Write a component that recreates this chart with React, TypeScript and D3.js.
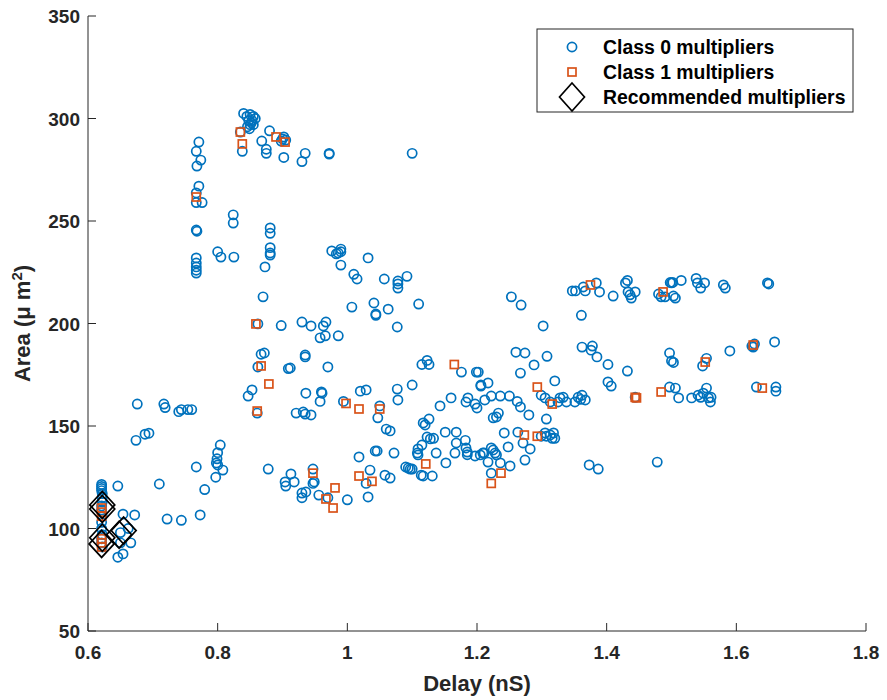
import React from 'react';
import * as d3 from 'd3';

const class0: [number, number][] = [
  [0.621,121.5],[0.621,120.5],[0.621,119.5],[0.621,118.5],[0.622,117],[0.622,115],[0.622,113],[0.621,111],[0.621,109],[0.622,106],[0.621,103],[0.621,100],[0.622,97],[0.621,95],[0.621,93],[0.622,91],
  [0.674,143],[0.688,146],[0.694,146.5],[0.71,121.7],[0.646,120.7],[0.654,107],[0.672,106.6],[0.722,104.6],[0.744,104],[0.773,106.6],[0.662,100],[0.65,98],[0.666,93],[0.65,93],[0.654,87.6],[0.646,86],
  [0.804,140.7],[0.80,137],[0.799,134],[0.798,132],[0.80,131],[0.767,130],[0.808,128.5],[0.797,125],[0.78,119],[0.878,129],[0.904,122.7],[0.905,120.7],
  [0.676,160.7],[0.717,160.7],[0.719,159],[0.74,157],[0.744,158],[0.754,158],[0.76,158],
  [0.767,227.6],[0.767,226],[0.767,224.6],[0.873,227.6],[0.87,213],[0.862,199.8],[0.898,199],[0.867,185],[0.872,185.6],[0.862,178.8],[0.909,178],[0.853,167.6],[0.847,164.6],[0.861,156.3],
  [0.84,302.5],[0.845,301],[0.85,302],[0.855,301],[0.848,299],[0.852,298],[0.846,296],[0.85,297],[0.853,299],[0.858,300],[0.849,295],[0.855,297],
  [0.835,293.4],[0.838,284],[0.88,294],[0.868,289],[0.875,285],[0.875,283],[0.9,290],[0.902,291],[0.905,289.5],[0.898,289],[0.902,281],
  [0.771,288.5],[0.767,284],[0.774,279.7],[0.768,276.8],[0.771,267],[0.767,263.7],[0.767,259],[0.776,259],[0.824,253],[0.824,249],[0.767,245.6],[0.768,245],
  [0.881,246.6],[0.881,244],[0.881,237],[0.881,234.4],[0.881,233.4],[0.80,235],[0.805,232.4],[0.825,232.4],[0.767,232],[0.767,229.5],
  [0.935,283],[0.93,279],[0.972,283],[0.972,282.6],[1.1,283],
  [0.976,235.4],[0.983,234],[0.99,236.3],[0.99,235],[0.986,234.4],[0.99,228.5],[1.032,232],
  [1.01,224],[1.015,221.7],[1.057,221.7],[1.078,220.7],[1.078,219.3],[1.078,217.3],[1.092,223],[1.007,208],[1.041,210],[1.044,204],[1.044,204.6],[1.063,207],[1.11,209.5],[1.077,198.3],
  [0.93,200.7],[0.944,198.8],[0.963,198.8],[0.967,200.7],[0.958,193],[0.966,194],[0.986,194],[0.935,184.6],[0.935,183.7],[0.912,178.3],[0.97,178.8],[1.115,180],[1.123,182],[1.126,180],[1.176,176.3],[1.199,176.3],[1.202,176.3],[1.206,169.5],
  [0.936,166],[0.96,166.6],[0.961,166],[0.958,162],[0.994,162],[1.02,167],[1.029,167.6],[1.05,159.8],[1.047,154],[1.077,168],[1.078,162.7],[1.1,170],
  [0.921,156.3],[0.932,156.8],[0.935,155.8],[0.944,155.4],[1.06,148.5],[1.066,147.6],[1.117,151.5],[1.12,150.5],[1.126,153.4],[1.143,159.8],[1.16,163.7],[1.151,147],[1.168,147],[1.183,161.7],[1.186,163.7],[1.197,160.7],[1.2,158.8],
  [1.123,144.6],[1.128,143.7],[1.133,144],[1.115,140.7],[1.109,138.8],[1.108,136.8],[1.109,135.9],[1.137,136.8],[1.166,136.8],[1.168,141.7],[1.182,143],[1.183,139.3],[1.185,137.3],[1.185,136],[1.197,135.4],[1.205,135.9],[1.209,136.8],[1.152,132],
  [1.09,130],[1.094,129.5],[1.097,129],[1.1,129],[1.114,126],[1.117,125.6],[1.131,125.6],[1.018,134.9],[1.043,137.8],[1.046,137.8],[1.072,136.8],[1.035,128.5],[1.029,122],[1.058,126],[1.066,124.6],[1.032,115.4],[1.0,114],
  [0.947,129],[0.949,122.7],[0.947,122],[0.913,126.6],[0.918,122.7],[0.93,117.3],[0.936,117.8],[0.93,115],[0.956,116.3],[0.97,115],
  [1.253,213],[1.268,209],[1.302,198.8],[1.361,204],[1.347,215.9],[1.352,215.9],[1.364,217.8],[1.367,215.9],[1.384,219.8],[1.389,215.4],[1.41,213.4],[1.429,219.8],[1.432,221],[1.433,215.4],[1.436,214],[1.438,212.4],[1.444,215.4],[1.48,214.4],[1.484,213],[1.49,213],[1.498,220],[1.5,219.8],
  [1.26,186],[1.274,185.6],[1.308,184],[1.288,179.8],[1.267,175.8],[1.362,188.5],[1.378,189],[1.376,187],[1.385,183.7],[1.402,180],[1.432,176.8],[1.32,172],[1.402,171.5],[1.407,169.5],[1.497,185.6],[1.5,181.7],[1.497,169],[1.506,168.5],[1.511,163.7],[1.444,164],
  [1.206,170],[1.217,171],[1.212,162.7],[1.222,164.6],[1.236,164.6],[1.25,164.6],[1.262,162],[1.267,159.3],[1.28,155.4],[1.299,165],[1.305,163.7],[1.313,161.7],[1.328,163.7],[1.333,164],[1.338,161.7],[1.325,161.7],[1.351,161.7],[1.356,164],[1.362,165],[1.367,162.7],[1.36,163],[1.225,154],[1.23,154.4],[1.233,156.3],[1.307,153.4],
  [1.242,146.6],[1.263,147],[1.305,146.6],[1.318,146.6],[1.299,145],[1.307,145],[1.313,145.6],[1.316,144],[1.32,144],[1.248,139.8],[1.271,141.7],[1.282,138.8],[1.274,133.4],[1.211,136.8],[1.222,139.3],[1.225,138.3],[1.228,136.8],[1.23,135.9],[1.217,132.4],[1.236,132],[1.251,130.5],[1.222,127],[1.373,131],[1.387,129],[1.478,132.4],
  [1.502,220],[1.515,221],[1.538,222],[1.54,219.8],[1.545,217.3],[1.551,219.8],[1.58,218.8],[1.583,217.3],[1.648,219.8],[1.65,219.3],[1.503,213.4],[1.506,212.4],[1.624,189],[1.628,190],[1.626,188.5],[1.659,191],[1.59,186.6],[1.554,183],[1.548,179.3],[1.503,181],
  [1.631,169],[1.661,169],[1.661,167],[1.531,163.7],[1.541,165],[1.545,164],[1.549,166],[1.554,168.5],[1.557,163.7],[1.56,161.7],[1.561,164],
];

const class1: [number, number][] = [
  [0.621,110],[0.621,108],[0.621,106],[0.621,95],[0.621,93],[0.621,91],
  [0.835,293.4],[0.838,287.6],[0.89,291],[0.904,288.5],[0.767,261.7],[0.859,199.8],[0.867,179.3],[0.879,170.5],[0.861,157.3],
  [0.998,161],[1.018,158.3],[1.05,158.3],[0.947,127],[0.967,114.4],[0.981,119.8],[0.978,110],[1.018,125.6],[1.038,123],[1.121,131.5],[1.165,180],
  [1.222,122],[1.237,127],[1.273,145.6],[1.293,145],[1.293,169],[1.316,160.7],[1.375,218.8],[1.444,164],[1.446,163.7],[1.484,166.6],[1.487,215.4],[1.552,181.2],[1.626,189.5],[1.64,168.5],
];

const recommended: [number, number][] = [
  [0.622,111.5],[0.622,109.5],[0.622,95.5],[0.621,92.5],[0.648,97],[0.655,99],
];

const xTicks = [0.6, 0.8, 1.0, 1.2, 1.4, 1.6, 1.8];
const xTickLabels = ['0.6', '0.8', '1', '1.2', '1.4', '1.6', '1.8'];
const yTicks = [50, 100, 150, 200, 250, 300, 350];
const legendLabels = ['Class 0 multipliers', 'Class 1 multipliers', 'Recommended multipliers'];

const BLUE = '#0072BD';
const ORANGE = '#D95319';
const AXIS = '#262626';
const FONT = '"Liberation Sans", Arial, Helvetica, sans-serif';

function diamondPath(cx: number, cy: number, w: number, h: number) {
  return `M${cx},${cy - h}L${cx + w},${cy}L${cx},${cy + h}L${cx - w},${cy}Z`;
}

export default function App() {
  const W = 887, H = 700;
  const left = 88, right = 866, top = 16, bottom = 631;
  const x = d3.scaleLinear().domain([0.6, 1.8]).range([left, right]);
  const y = d3.scaleLinear().domain([50, 350]).range([bottom, top]);
  const tickLen = 8;
  const sq = 8;
  const r = 4.6;
  const sw = 1.7;

  const lx = 537, ly = 29, lw = 316, lh = 83;
  const legRows = [47, 72, 97];

  return (
    <div style={{ position: 'absolute', left: 0, top: 0 }}>
      <svg width={W} height={H} style={{ display: 'block', background: '#fff' }} fontFamily={FONT}>
        <rect x={0} y={0} width={W} height={H} fill="#fff" />
        <line x1={left} y1={top} x2={left} y2={bottom} stroke={AXIS} strokeWidth={1} />
        <line x1={left} y1={bottom} x2={right} y2={bottom} stroke={AXIS} strokeWidth={1} />
        {xTicks.map((t, i) => (
          <g key={'xt' + i}>
            <line x1={x(t)} x2={x(t)} y1={bottom} y2={bottom - tickLen} stroke={AXIS} />
            <text x={x(t)} y={bottom + 28} textAnchor="middle" fontSize={19} fontWeight="bold" fill={AXIS}>{xTickLabels[i]}</text>
          </g>
        ))}
        {yTicks.map((t, i) => (
          <g key={'yt' + i}>
            <line x1={left} x2={left + tickLen} y1={y(t)} y2={y(t)} stroke={AXIS} />
            <text x={left - 8} y={y(t) + 7} textAnchor="end" fontSize={19} fontWeight="bold" fill={AXIS}>{t}</text>
          </g>
        ))}
        <text x={(left + right) / 2} y={691} textAnchor="middle" fontSize={22} fontWeight="bold" fill={AXIS}>Delay (nS)</text>
        <text transform={`translate(30,${(top + bottom) / 2}) rotate(-90)`} textAnchor="middle" fontSize={22} fontWeight="bold" fill={AXIS}>
          Area (μ m<tspan dy={-8} fontSize={15}>2</tspan><tspan dy={8}>)</tspan>
        </text>

        <g>
          {class0.map((d, i) => (
            <circle key={'c0' + i} cx={x(d[0])} cy={y(d[1])} r={r} fill="none" stroke={BLUE} strokeWidth={sw} />
          ))}
        </g>
        <g>
          {class1.map((d, i) => (
            <rect key={'c1' + i} x={x(d[0]) - sq / 2} y={y(d[1]) - sq / 2} width={sq} height={sq} fill="none" stroke={ORANGE} strokeWidth={sw} />
          ))}
        </g>
        <g>
          {recommended.map((d, i) => (
            <path key={'r' + i} d={diamondPath(x(d[0]), y(d[1]), 12.5, 13.5)} fill="none" stroke="#000" strokeWidth={1.7} />
          ))}
        </g>

        <rect x={lx} y={ly} width={lw} height={lh} fill="#fff" stroke={AXIS} strokeWidth={1} />
        <circle cx={572} cy={legRows[0]} r={r} fill="none" stroke={BLUE} strokeWidth={sw} />
        <rect x={572 - sq / 2} y={legRows[1] - sq / 2} width={sq} height={sq} fill="none" stroke={ORANGE} strokeWidth={sw} />
        <path d={diamondPath(572, legRows[2], 12.5, 14)} fill="none" stroke="#000" strokeWidth={1.7} />
        {legendLabels.map((l, i) => (
          <text key={'ll' + i} x={603} y={legRows[i] + 7} fontSize={19.4} fontWeight="bold" fill="#000">{l}</text>
        ))}
      </svg>
    </div>
  );
}
